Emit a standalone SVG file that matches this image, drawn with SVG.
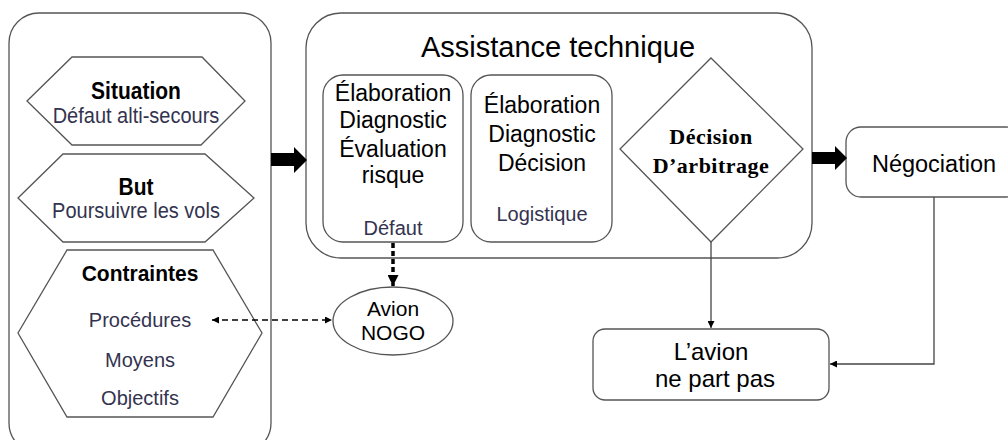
<svg xmlns="http://www.w3.org/2000/svg" width="1008" height="440" viewBox="0 0 1008 440">
<style>
.box{fill:#fff;stroke:#555;stroke-width:1.3}
.t{font-family:"Liberation Sans",Arial,sans-serif;fill:#000;text-anchor:middle}
.b{font-weight:bold}
.sub{font-family:"Liberation Sans",Arial,sans-serif;fill:#33334f;text-anchor:middle;font-size:20px}
.serif{font-family:"Liberation Serif","Times New Roman",serif;font-weight:bold;fill:#000;text-anchor:middle;font-size:22px;letter-spacing:0.5px}
.ln{fill:none;stroke:#444;stroke-width:1.3}
</style>
<defs>
<marker id="ah" viewBox="0 0 10 10" refX="10" refY="5" markerWidth="7" markerHeight="7" markerUnits="userSpaceOnUse" orient="auto-start-reverse"><path d="M0,0 L10,5 L0,10 z" fill="#000"/></marker>
<marker id="ah2" viewBox="0 0 10 10" refX="10" refY="5" markerWidth="11" markerHeight="11" markerUnits="userSpaceOnUse" orient="auto"><path d="M0,0 L10,5 L0,10 z" fill="#000"/></marker>
</defs>
<rect width="1008" height="440" fill="#fff"/>

<g id="contexte">
<rect class="box" x="9" y="13" width="262" height="440" rx="30"/>
</g>
<g id="situation">
<polygon class="box" points="27,101 72,57 202,57 245,101 201,145 72,145"/>
<text class="t b" x="136" y="99" font-size="21" transform="matrix(1 0 0 1.1 0 -9.9)">Situation</text>
<text class="sub" x="136" y="123" transform="matrix(1 0 0 1.1 0 -12.3)">Défaut alti-secours</text>
</g>
<g id="but">
<polygon class="box" points="18,198 63,154 205,154 254,198 205,242 63,242"/>
<text class="t b" x="136" y="195" font-size="21" transform="matrix(1 0 0 1.1 0 -19.5)">But</text>
<text class="sub" x="136" y="218" transform="matrix(1 0 0 1.1 0 -21.8)">Poursuivre les vols</text>
</g>
<g id="contraintes">
<polygon class="box" points="67,250 213,250 262,333 213,417 67,417 18,333"/>
<text class="t b" x="140" y="281" font-size="21" transform="matrix(1 0 0 1.08 0 -22.48)">Contraintes</text>
<text class="sub" x="140" y="327" font-size="19">Procédures</text>
<text class="sub" x="140" y="367" font-size="19">Moyens</text>
<text class="sub" x="140" y="405" font-size="19">Objectifs</text>
</g>

<g id="assistance">
<rect class="box" x="306" y="13" width="506" height="245" rx="35"/>
<text class="t" x="558" y="57" font-size="29">Assistance technique</text>
</g>
<g id="elaboration1">
<rect class="box" x="323" y="75" width="140" height="167" rx="20"/>
<text class="t" x="393" y="101" font-size="23">Élaboration</text>
<text class="t" x="393" y="128" font-size="23">Diagnostic</text>
<text class="t" x="393" y="157" font-size="23">Évaluation</text>
<text class="t" x="393" y="183" font-size="23">risque</text>
<text class="sub" x="393" y="235">Défaut</text>
</g>
<g id="elaboration2">
<rect class="box" x="471" y="75" width="141" height="167" rx="20"/>
<text class="t" x="542" y="113" font-size="23">Élaboration</text>
<text class="t" x="542" y="142" font-size="23">Diagnostic</text>
<text class="t" x="542" y="171" font-size="23">Décision</text>
<text class="sub" x="542" y="221">Logistique</text>
</g>
<g id="decision">
<polygon class="box" points="711,58 803,149 711,242 620,149"/>
<text class="serif" x="711" y="144">Décision</text>
<text class="serif" x="711" y="173">D’arbitrage</text>
</g>
<g id="negociation">
<rect class="box" x="846" y="127" width="175" height="70" rx="15"/>
<text class="t" x="934" y="172" font-size="23.5">Négociation</text>
</g>
<g id="avion-nogo">
<ellipse class="box" cx="393" cy="321" rx="60" ry="34"/>
<text class="t" x="393" y="316" font-size="21">Avion</text>
<text class="t" x="393" y="340" font-size="21">NOGO</text>
</g>
<g id="ne-part-pas">
<rect class="box" x="593" y="329" width="236" height="71" rx="12"/>
<text class="t" x="711" y="360" font-size="24">L’avion</text>
<text class="t" x="715" y="387" font-size="24">ne part pas</text>
</g>

<g id="connecteurs">
<polygon points="271,153 294,153 294,147 307,160 294,173 294,166 271,166" fill="#000"/>
<polygon points="812,152 835,152 835,146 847,158 835,170 835,164 812,164" fill="#000"/>
<line x1="393" y1="243" x2="393" y2="286" stroke="#000" stroke-width="3.5" stroke-dasharray="5,3" marker-end="url(#ah2)"/>
<line x1="212" y1="320" x2="332" y2="320" stroke="#000" stroke-width="1.3" stroke-dasharray="6,4" marker-start="url(#ah)" marker-end="url(#ah)"/>
<line class="ln" x1="711" y1="242" x2="711" y2="328" marker-end="url(#ah)"/>
<polyline class="ln" points="934,197 934,364 830,364" marker-end="url(#ah)"/>
</g>
</svg>
